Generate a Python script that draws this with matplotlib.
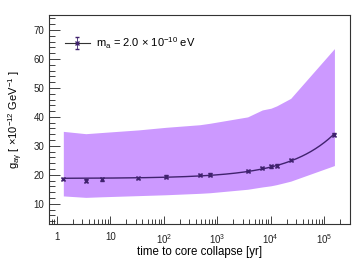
import numpy as np
import matplotlib
matplotlib.use("Agg")
import matplotlib.pyplot as plt
from matplotlib.ticker import FixedLocator, LogLocator, NullFormatter, MultipleLocator
from matplotlib.lines import Line2D
from matplotlib.legend_handler import HandlerTuple

plt.rcParams['font.family'] = ['Liberation Sans', 'DejaVu Sans']
plt.rcParams['mathtext.fontset'] = 'custom'
plt.rcParams['mathtext.rm'] = 'Liberation Sans'
plt.rcParams['mathtext.it'] = 'Liberation Sans:italic'

# data
time_yr = [1.33, 3.5, 6.9, 33.5, 110, 475, 733, 3700, 6950, 10100, 12900, 23600, 155000]
g_val = [18.5, 18.0, 18.4, 19.0, 19.4, 20.0, 20.1, 21.2, 22.4, 22.9, 23.2, 25.0, 33.9]
g_err = [0.4, 0.4, 0.4, 0.4, 0.4, 0.4, 0.4, 0.4, 0.4, 0.4, 0.4, 0.4, 0.4]
band_upper = [35.0, 34.2, 34.6, 35.5, 36.4, 37.3, 37.8, 40.0, 42.4, 43.0, 43.8, 46.4, 63.6]
band_lower = [12.7, 12.2, 12.4, 12.8, 13.1, 13.6, 13.8, 15.0, 15.8, 16.2, 16.6, 17.8, 23.2]
legend_label = r"m$_\mathregular{a}$ = 2.0 × 10$^\mathregular{-10}$ eV"
xlabel = "time to core collapse [yr]"
ylabel = r"g$_\mathregular{a\gamma}$ [ ×10$^\mathregular{-12}$ GeV$^\mathregular{-1}$ ]"
xtick_vals = [1, 10, 100, 1000, 10000, 100000]
xtick_labels = ["1", "10", r"10$^\mathregular{2}$", r"10$^\mathregular{3}$", r"10$^\mathregular{4}$", r"10$^\mathregular{5}$"]

band_color = "#cc99ff"
line_color = "#40226e"

fig = plt.figure(figsize=(3.61, 2.60), dpi=100)
ax = fig.add_axes([49/361, 1-224/260, (350-49)/361, (224-15)/260])

t = np.array(time_yr)
g = np.array(g_val)
ax.fill_between(t, band_lower, band_upper, color=band_color, lw=0, zorder=1)

# smooth fit a + b*sqrt(t)
A = np.vstack([np.ones_like(t), np.sqrt(t)]).T
coef, *_ = np.linalg.lstsq(A, g, rcond=None)
tt = np.logspace(np.log10(t[0]), np.log10(t[-1]), 300)
ax.plot(tt, coef[0] + coef[1]*np.sqrt(tt), color=line_color, lw=1.0, zorder=2)

eb = ax.errorbar(t, g, yerr=g_err, fmt='x', ms=3, mew=1.0, color=line_color,
                 ecolor=line_color, elinewidth=0.6, capsize=1.5, zorder=3)

ax.set_xscale('log')
ax.set_xlim(0.718, 3.03e5)
ax.set_ylim(3.0, 75.2)

ax.xaxis.set_major_locator(FixedLocator(xtick_vals))
ax.set_xticklabels(xtick_labels)
ax.xaxis.set_minor_locator(LogLocator(base=10, subs=np.arange(2, 10)))
ax.xaxis.set_minor_formatter(NullFormatter())
ax.yaxis.set_major_locator(MultipleLocator(10))
ax.yaxis.set_minor_locator(MultipleLocator(2))

ax.tick_params(which='both', direction='in', top=False, right=False, labelsize=7, colors='#222222')
ax.tick_params(axis='y', which='major', length=8, width=0.6)
ax.tick_params(axis='y', which='minor', length=4, width=0.6)
ax.tick_params(axis='x', which='major', length=6, width=0.6, pad=6)
ax.tick_params(axis='x', which='minor', length=3.5, width=0.6)
for s in ax.spines.values():
    s.set_linewidth(0.8)
    s.set_color('#333333')

ax.set_xlabel(xlabel, fontsize=8.3, labelpad=0)
ax.set_ylabel(ylabel, fontsize=8, labelpad=6)

hline = Line2D([], [], color='#333333', lw=0.8)
leg = ax.legend(handles=[(hline, eb)], labels=[legend_label],
                handler_map={tuple: HandlerTuple(ndivide=1, pad=0)},
                loc='upper left', bbox_to_anchor=(0.037, 0.925), frameon=False, fontsize=8,
                handlelength=2.3, handletextpad=0.5, borderaxespad=0)

fig.savefig("out.png", dpi=100)
